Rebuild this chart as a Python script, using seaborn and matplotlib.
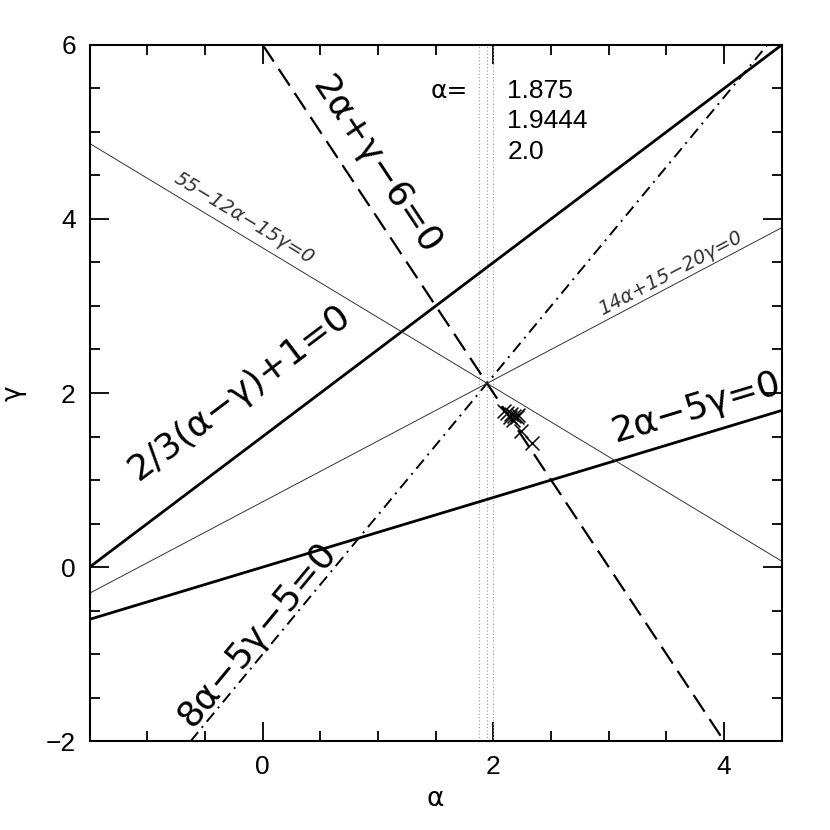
import numpy as np
import matplotlib
matplotlib.use("Agg")
import matplotlib.pyplot as plt
import seaborn as sns

# endpoints of each constraint line (alpha, gamma)
line_a_alpha = [-1.5, 4.5]      # 2/3(a-g)+1=0
line_a_gamma = [0.0, 6.0]
line_b_alpha = [0.0, 4.0]       # 2a+g-6=0
line_b_gamma = [6.0, -2.0]
line_c_alpha = [-0.625, 4.375]  # 8a-5g-5=0
line_c_gamma = [-2.0, 6.0]
line_d_alpha = [-1.5, 4.5]      # 2a-5g=0
line_d_gamma = [-0.6, 1.8]
line_e_alpha = [-1.5, 4.5]      # 55-12a-15g=0
line_e_gamma = [4.867, 0.067]
line_f_alpha = [-1.5, 4.5]      # 14a+15-20g=0
line_f_gamma = [-0.3, 3.9]

# vertical reference values of alpha
alpha_marks = [1.875, 1.9444, 2.0]
alpha_mark_labels = ["1.875", "1.9444", "2.0"]

# crosses (fit results)
cross_alpha = [2.09, 2.12, 2.15, 2.18, 2.14, 2.20, 2.17, 2.21, 2.24, 2.33]
cross_gamma = [1.79, 1.77, 1.76, 1.74, 1.72, 1.72, 1.69, 1.75, 1.56, 1.42]

x_ticks = [0, 2, 4]
y_ticks = [-2, 0, 2, 4, 6]

sns.set_style("ticks")
plt.rcParams["font.family"] = ["Liberation Sans", "DejaVu Sans"]
for k in ["text.color", "axes.labelcolor", "xtick.color", "ytick.color", "axes.edgecolor"]:
    plt.rcParams[k] = "black"

greek = ["DejaVu Sans"]

fig = plt.figure(figsize=(8.3, 8.3), dpi=100)
ax = fig.add_axes([0.108, 0.107, 0.834, 0.839])
xlim = (-1.5, 4.5)
ylim = (-2, 6)
ax.set_xlim(*xlim)
ax.set_ylim(*ylim)

# pixels per data unit, used for text rotation
px_x = 0.834 * 830 / (xlim[1] - xlim[0])
px_y = 0.839 * 830 / (ylim[1] - ylim[0])


def angle(xs, ys):
    slope = (ys[1] - ys[0]) / (xs[1] - xs[0])
    return np.degrees(np.arctan(slope * px_y / px_x))


for a in alpha_marks:
    ax.axvline(a, color="#999999", lw=0.8, ls=(0, (1, 2)), zorder=1)

sns.lineplot(x=line_a_alpha, y=line_a_gamma, ax=ax, color="black", lw=2.0)
sns.lineplot(x=line_b_alpha, y=line_b_gamma, ax=ax, color="black", lw=1.6,
             linestyle=(0, (9, 4)))
sns.lineplot(x=line_c_alpha, y=line_c_gamma, ax=ax, color="black", lw=1.4,
             linestyle=(0, (6, 3, 1, 3)))
sns.lineplot(x=line_d_alpha, y=line_d_gamma, ax=ax, color="black", lw=2.0)
sns.lineplot(x=line_e_alpha, y=line_e_gamma, ax=ax, color="#333333", lw=0.7)
sns.lineplot(x=line_f_alpha, y=line_f_gamma, ax=ax, color="#333333", lw=0.7)

sns.scatterplot(x=cross_alpha, y=cross_gamma, ax=ax, marker="x", s=100,
                color="black", linewidth=1.1, zorder=5)

# labels along the lines
big = dict(fontsize=26, ha="center", va="center", rotation_mode="anchor", family=greek)
small = dict(fontsize=14, ha="center", va="center", rotation_mode="anchor",
             family=greek, color="#333333", style="italic")
ax.text(-0.2, 2.0, "2/3(α−γ)+1=0", rotation=angle(line_a_alpha, line_a_gamma), **big)
ax.text(0.98, 4.62, "2α+γ−6=0", rotation=angle(line_b_alpha, line_b_gamma), **big)
ax.text(-0.05, -0.77, "8α−5γ−5=0", rotation=angle(line_c_alpha, line_c_gamma), **big)
ax.text(3.76, 1.83, "2α−5γ=0", rotation=angle(line_d_alpha, line_d_gamma), **big)
ax.text(-0.16, 4.01, "55−12α−15γ=0", rotation=angle(line_e_alpha, line_e_gamma), **small)
ax.text(3.53, 3.38, "14α+15−20γ=0", rotation=angle(line_f_alpha, line_f_gamma), **small)

# alpha values legend
ax.text(1.78, 5.47, "α=", fontsize=18, ha="right", va="center", family=greek)
for i, lab in enumerate(alpha_mark_labels):
    ax.text(2.12, 5.47 - 0.35 * i, lab, fontsize=19, ha="left", va="center")

ax.set_xticks(x_ticks)
ax.set_yticks(y_ticks)
ax.set_xticks(np.arange(-1.5, 4.51, 0.5), minor=True)
ax.set_yticks(np.arange(-2, 6.01, 0.5), minor=True)
ax.set_yticklabels([str(t).replace("-", "−") for t in y_ticks])
ax.tick_params(which="both", direction="in", top=True, right=True,
               labelsize=19, width=1.3, pad=10)
ax.tick_params(which="major", length=14)
ax.tick_params(which="minor", length=7)
for sp in ax.spines.values():
    sp.set_linewidth(1.5)
    sp.set_visible(True)

ax.set_xlabel("α", fontsize=19, labelpad=5, family=greek)
ax.set_ylabel("γ", fontsize=19, labelpad=14, family=greek)

fig.savefig("out.png", dpi=100)
